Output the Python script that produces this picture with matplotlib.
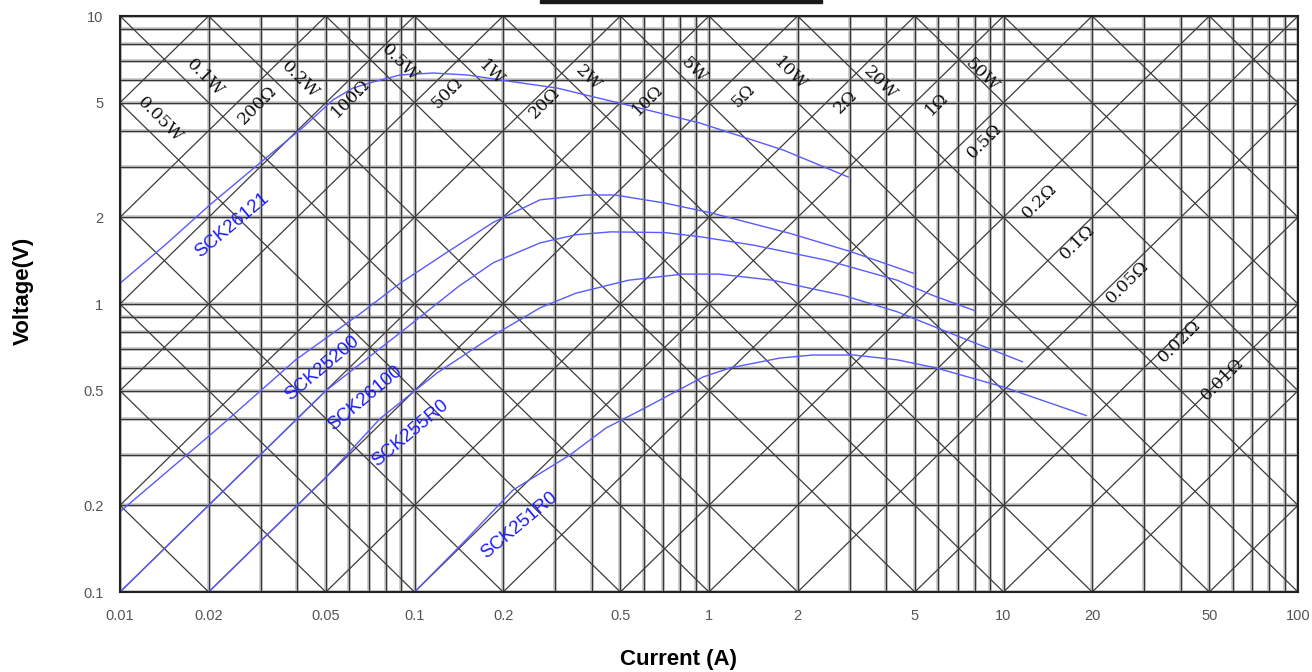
import matplotlib
matplotlib.use("Agg")
import numpy as np
import matplotlib.pyplot as plt

# thermistor V-I curves: current (A), voltage (V)
I_26121 = [0.01, 0.0142, 0.0202, 0.0316, 0.042, 0.0528, 0.0618, 0.0723, 0.0893, 0.1156, 0.151, 0.195, 0.305, 0.527, 0.931, 1.78, 2.97]
V_26121 = [1.18, 1.60, 2.21, 3.24, 4.12, 5.11, 5.62, 5.90, 6.24, 6.34, 6.24, 6.00, 5.62, 4.91, 4.25, 3.43, 2.76]

I_25200 = [0.01, 0.0215, 0.0395, 0.0658, 0.0893, 0.13, 0.185, 0.267, 0.382, 0.48, 0.71, 1.02, 1.88, 3.03, 4.93]
V_25200 = [0.19, 0.37, 0.64, 0.93, 1.18, 1.52, 1.92, 2.30, 2.39, 2.39, 2.24, 2.07, 1.76, 1.52, 1.28]

I_26100 = [0.01, 0.03, 0.05, 0.093, 0.141, 0.185, 0.267, 0.353, 0.464, 0.71, 0.94, 1.42, 2.50, 4.35, 5.77, 7.94]
V_26100 = [0.10, 0.30, 0.50, 0.82, 1.15, 1.39, 1.63, 1.74, 1.78, 1.77, 1.71, 1.60, 1.42, 1.21, 1.07, 0.95]

I_255R0 = [0.02, 0.05, 0.0764, 0.119, 0.19, 0.267, 0.353, 0.534, 0.817, 1.08, 1.64, 2.87, 4.35, 6.64, 11.6]
V_255R0 = [0.10, 0.25, 0.40, 0.575, 0.79, 0.97, 1.09, 1.21, 1.27, 1.27, 1.21, 1.07, 0.94, 0.79, 0.63]

I_251R0 = [0.1, 0.146, 0.216, 0.337, 0.447, 0.615, 0.955, 1.18, 1.74, 2.25, 3.10, 4.35, 5.9, 10.0, 19.1]
V_251R0 = [0.1, 0.148, 0.226, 0.299, 0.371, 0.439, 0.558, 0.60, 0.649, 0.665, 0.665, 0.64, 0.60, 0.515, 0.41]

curve_names = ["SCK26121", "SCK25200", "SCK26100", "SCK255R0", "SCK251R0"]

# constant power / constant resistance guide lines (1-2-5 steps)
powers = [0.001, 0.002, 0.005, 0.01, 0.02, 0.05, 0.1, 0.2, 0.5, 1, 2, 5,
          10, 20, 50, 100, 200, 500, 1000]
resistances = [0.001, 0.002, 0.005, 0.01, 0.02, 0.05, 0.1, 0.2, 0.5, 1, 2, 5,
               10, 20, 50, 100, 200, 500, 1000]

power_labels = ["0.05W", "0.1W", "0.2W", "0.5W", "1W", "2W", "5W", "10W", "20W", "50W"]
res_labels = ["200Ω", "100Ω", "50Ω", "20Ω", "10Ω", "5Ω", "2Ω", "1Ω", "0.5Ω",
              "0.2Ω", "0.1Ω", "0.05Ω", "0.02Ω", "0.01Ω"]

x_ticks = [0.01, 0.02, 0.05, 0.1, 0.2, 0.5, 1, 2, 5, 10, 20, 50, 100]
x_ticklabels = ["0.01", "0.02", "0.05", "0.1", "0.2", "0.5", "1", "2", "5", "10", "20", "50", "100"]
y_ticks = [0.1, 0.2, 0.5, 1, 2, 5, 10]
y_ticklabels = ["0.1", "0.2", "0.5", "1", "2", "5", "10"]

# label placement (data coords)
power_pos = [(0.01368, 4.36), (0.01945, 6.09), (0.0408, 6.0), (0.0893, 6.87), (0.183, 6.34),
             (0.388, 6.09), (0.889, 6.49), (1.88, 6.29), (3.81, 5.85), (8.45, 6.24)]
res_pos = [(0.0292, 4.91), (0.0604, 5.19), (0.129, 5.40), (0.277, 4.99), (0.621, 5.11),
           (1.31, 5.27), (2.90, 5.03), (5.95, 4.95), (8.65, 3.68), (13.3, 2.28),
           (17.9, 1.64), (26.3, 1.19), (39.7, 0.744), (55.2, 0.549)]
curve_label_pos = [(0.024, 1.88), (0.0485, 0.60), (0.068, 0.47), (0.097, 0.355), (0.226, 0.171)]

W, H = 1312, 672
fig = plt.figure(figsize=(W / 100, H / 100), dpi=100)
ax = fig.add_axes([120 / W, 1 - 592 / H, 1178 / W, 576 / H])
ax.set_xscale("log")
ax.set_yscale("log")
xmin, xmax, ymin, ymax = 0.01, 100, 0.1, 10
ax.set_xlim(xmin, xmax)
ax.set_ylim(ymin, ymax)

# grid on every log subdivision, gray halo + dark core like the scan
xs = [k * d for d in (0.01, 0.1, 1, 10) for k in range(1, 10)] + [100]
ys = [k * d for d in (0.1, 1) for k in range(1, 10)] + [10]
for x in xs:
    ax.axvline(x, color="#c4c4c4", lw=2.6, zorder=1)
    ax.axvline(x, color="#363636", lw=0.9, zorder=2)
for y in ys:
    ax.axhline(y, color="#c4c4c4", lw=2.6, zorder=1)
    ax.axhline(y, color="#363636", lw=0.9, zorder=2)

cur = np.array([xmin, xmax])
for p in powers:
    ax.plot(cur, p / cur, color="#3c3c3c", lw=0.9, zorder=3)
for r in resistances:
    ax.plot(cur, r * cur, color="#3c3c3c", lw=0.9, zorder=3)

curves = [(I_26121, V_26121), (I_25200, V_25200), (I_26100, V_26100),
          (I_255R0, V_255R0), (I_251R0, V_251R0)]
for (ci, cv) in curves:
    ax.plot(ci, cv, color="#5a5aff", lw=1.0, zorder=4)

for name, (lx, ly) in zip(curve_names, curve_label_pos):
    ax.text(lx, ly, name, color="#1c1cff", fontsize=13.5, family="Liberation Sans",
            rotation=40, ha="center", va="center", rotation_mode="anchor", zorder=5)

for lab, (lx, ly) in zip(power_labels, power_pos):
    ax.text(lx, ly, lab, fontsize=12.5, family="DejaVu Serif", color="#111111",
            rotation=-45, ha="center", va="center", rotation_mode="anchor", zorder=5)
for lab, (lx, ly) in zip(res_labels, res_pos):
    ax.text(lx, ly, lab, fontsize=12.5, family="DejaVu Serif", color="#111111",
            rotation=45, ha="center", va="center", rotation_mode="anchor", zorder=5)

ax.set_xticks(x_ticks)
ax.set_xticklabels(x_ticklabels)
ax.set_yticks(y_ticks)
ax.set_yticklabels(y_ticklabels)
ax.minorticks_off()
ax.tick_params(length=0, pad=12, labelsize=10.5, labelcolor="#555555")
for lbl in ax.get_xticklabels() + ax.get_yticklabels():
    lbl.set_family("Liberation Sans")
for s in ax.spines.values():
    s.set_linewidth(1.5)
    s.set_color("#222222")
    s.set_zorder(6)

fig.text(678 / W, 1 - 660 / H, "Current (A)", fontsize=16, fontweight="bold",
         family="Liberation Sans", ha="center", va="center")
fig.text(23 / W, 1 - 291 / H, "Voltage(V)", fontsize=16, fontweight="bold",
         family="Liberation Sans", ha="center", va="center", rotation=90)

# black bar cut off at the top edge of the scan
fig.add_artist(plt.Rectangle((540 / W, 1 - 3 / H), 282 / W, 3 / H,
                             transform=fig.transFigure, color="#1a1a1a"))

fig.savefig("out.png", dpi=100)
